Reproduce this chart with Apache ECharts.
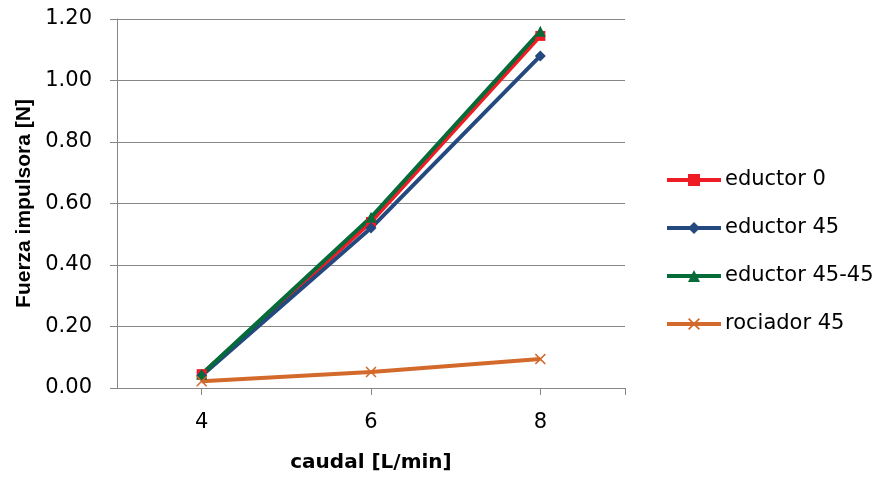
<!DOCTYPE html>
<html>
<head>
<meta charset="utf-8">
<script src="https://cdn.jsdelivr.net/npm/echarts@6/dist/echarts.min.js"></script>
<style>html,body{margin:0;padding:0;background:#fff}#c{width:877px;height:477px}</style>
</head>
<body>
<div id="c"></div>
<script>
const caudal = [4, 6, 8];
const eductor0 = [0.045, 0.54, 1.145];
const eductor45 = [0.04, 0.52, 1.08];
const eductor4545 = [0.045, 0.555, 1.16];
const rociador45 = [0.022, 0.052, 0.094];
const yTicks = [0, 0.2, 0.4, 0.6, 0.8, 1.0, 1.2];
const xLabels = [4, 6, 8];

const FONT = 'DejaVu Sans';
const grey = '#878787';
const pts = arr => caudal.map((x, i) => [x, arr[i]]);
const xPath = 'path://M0,1L1,0L5,4L9,0L10,1L6,5L10,9L9,10L5,6L1,10L0,9L4,5Z';

const mk = (name, data, color, symbol, size) => ({
  name, type: 'line', data: pts(data), symbol, symbolSize: size,
  showAllSymbol: true,
  lineStyle: { color, width: 4 }, itemStyle: { color },
  emphasis: { disabled: true }, animation: false
});

const chart = echarts.init(document.getElementById('c'), null, { renderer: 'canvas' });
chart.setOption({
  animation: false,
  textStyle: { fontFamily: FONT },
  grid: { left: 117, right: 252, top: 19, bottom: 89, containLabel: false, outerBoundsMode: 'none' },
  legend: {
    orient: 'vertical', left: 660, top: 164, itemWidth: 54, itemHeight: 15, itemGap: 26,
    lineStyle: { width: 4 },
    textStyle: { fontFamily: FONT, fontSize: 21, color: '#000', lineHeight: 22, padding: [0, 0, 0, -1] },
    data: ['eductor 0', 'eductor 45', 'eductor 45-45', 'rociador 45']
  },
  xAxis: {
    type: 'value', min: 3, max: 9,
    name: 'caudal [L/min]', nameLocation: 'middle', nameGap: 65,
    nameTextStyle: { fontFamily: FONT, fontWeight: 'bold', fontSize: 20, color: '#000' },
    axisLine: { lineStyle: { color: grey, width: 1 } },
    axisTick: { show: true, length: 7, lineStyle: { color: grey }, customValues: [4, 6, 8, 9] },
    axisLabel: { customValues: xLabels, fontSize: 21, color: '#000', margin: 24, fontFamily: FONT },
    splitLine: { show: false }
  },
  yAxis: {
    type: 'value', min: 0, max: 1.2, interval: 0.2,
    name: 'Fuerza impulsora [N]', nameLocation: 'middle', nameGap: 81,
    nameTextStyle: { fontFamily: 'Liberation Sans', fontWeight: 'bold', fontSize: 21, color: '#000' },
    axisLine: { show: true, lineStyle: { color: grey, width: 1 } },
    axisTick: { show: true, length: 7, lineStyle: { color: grey } },
    axisLabel: { fontSize: 21, color: '#000', margin: 25, fontFamily: FONT,
      formatter: v => v.toFixed(2) },
    splitLine: { show: true, lineStyle: { color: grey, width: 1 } }
  },
  series: [
    mk('eductor 0', eductor0, '#EE1D25', 'rect', 10),
    mk('eductor 45', eductor45, '#23497F', 'diamond', 11),
    mk('eductor 45-45', eductor4545, '#046B39', 'triangle', 11),
    mk('rociador 45', rociador45, '#D3692A', xPath, 11)
  ]
});
</script>
</body>
</html>
